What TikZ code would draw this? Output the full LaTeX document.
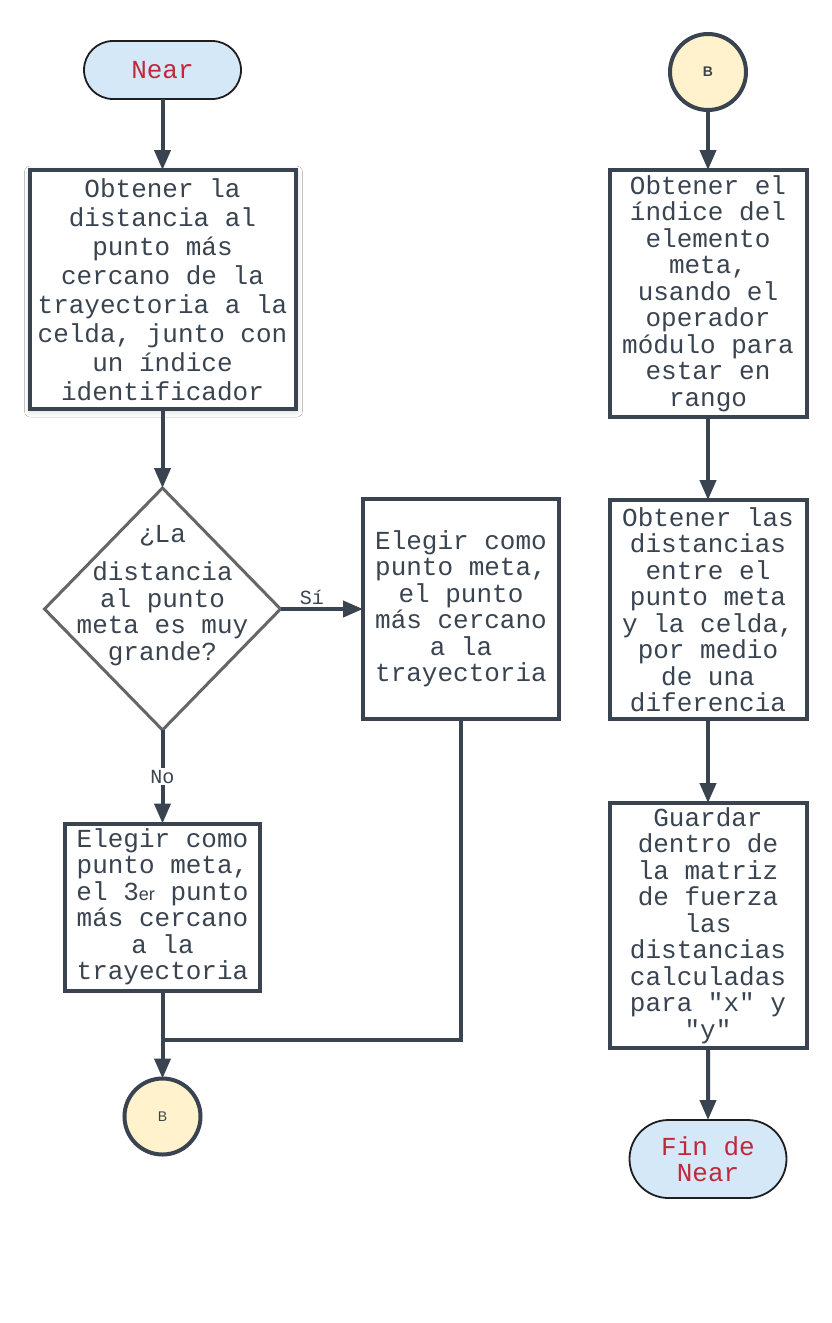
\documentclass[tikz,border=0pt]{standalone}
\usepackage{fontspec}
\setmainfont{Liberation Sans}
\setsansfont{Liberation Sans}
\setmonofont{Liberation Mono}
\usepackage{tikz}
\usetikzlibrary{arrows.meta,positioning,shapes.geometric,shapes.misc,shadows.blur}
\definecolor{cInk}{HTML}{3A4450}
\definecolor{cEdge}{HTML}{1E1E1E}
\definecolor{cGray}{HTML}{666666}
\definecolor{cTerm}{HTML}{D5E8F8}
\definecolor{cConn}{HTML}{FFF2CC}
\definecolor{cRed}{HTML}{C0283C}
\tikzset{
  >={Triangle[length=20pt,width=16pt]},
  txt/.style  ={font=\ttfamily\fontsize{26}{26.5}\selectfont,text=cInk},
  term/.style ={rounded rectangle,draw=cEdge,line width=1.8pt,fill=cTerm,
                txt,text=cRed,align=center,inner sep=0pt,outer sep=0pt},
  proc/.style ={rectangle,draw=cInk,line width=4pt,fill=white,
                txt,align=center,inner sep=0pt,outer sep=0pt},
  dec/.style  ={diamond,draw=cGray,line width=3pt,fill=white,
                inner sep=0pt,outer sep=0pt},
  conn/.style ={circle,draw=cInk,line width=4pt,fill=cConn,inner sep=0pt,
                outer sep=0pt,minimum size=76pt,text=cInk,
                font=\sffamily\fontsize{14}{14}\selectfont},
  ar/.style   ={->,line width=4pt,draw=cInk},
  ln/.style   ={line width=4pt,draw=cInk},
  lbl/.style  ={font=\ttfamily\fontsize{20}{20}\selectfont,text=cInk,inner sep=2pt},
}

\begin{document}
\begin{tikzpicture}[x=1pt,y=1pt]
\fill[white] (0,0) rectangle (832,-1323);

% left column
\node[term,minimum width=157pt,minimum height=58pt] (near) at (162.5,-70) {Near};
\node[proc,font=\ttfamily\fontsize{26}{29}\selectfont,minimum width=266pt,
      minimum height=239pt,below=71pt of near,
      blur shadow={shadow xshift=1pt,shadow yshift=-2pt,shadow blur radius=6pt,shadow opacity=18}]
      (dist) {Obtener la\\distancia al\\punto más\\cercano de la\\trayectoria a la\\celda, junto con\\un índice\\identificador};
\node[dec,minimum width=236pt,minimum height=242pt,below=79pt of dist,
      label={[txt,align=center,yshift=13.5pt]center:{¿La\\[12pt]distancia\\al punto\\meta es muy\\grande?}}] (big) {};
\node[proc,minimum width=196pt,minimum height=220pt,right=82.5pt of big]
      (far) {Elegir como\\punto meta,\\el punto\\más cercano\\a la\\trayectoria};
\node[proc,minimum width=195pt,minimum height=167pt,below=93.5pt of big]
      (third) {Elegir como\\punto meta,\\el 3{\sffamily\fontsize{18}{18}\selectfont er} punto\\más cercano\\a la\\trayectoria};
\node[conn,below=88pt of third] (bL) {B};
\coordinate[below=49pt of third.south] (join);

% right column
\node[conn,font=\sffamily\bfseries\fontsize{14}{14}\selectfont] (bR) at (708,-72) {B};
\node[proc,minimum width=197pt,minimum height=247pt,below=60pt of bR]
      (idx) {Obtener el\\índice del\\elemento\\meta,\\usando el\\operador\\módulo para\\estar en\\rango};
\node[proc,minimum width=197pt,minimum height=219pt,below=83pt of idx]
      (diff) {Obtener las\\distancias\\entre el\\punto meta\\y la celda,\\por medio\\de una\\diferencia};
\node[proc,minimum width=197pt,minimum height=245pt,below=84pt of diff]
      (save) {Guardar\\dentro de\\la matriz\\de fuerza\\las\\distancias\\calculadas\\para "x" y\\"y"};
\node[term,minimum width=157pt,minimum height=78pt,below=72pt of save] (fin) {Fin de\\Near};

\draw[ar] (near) -- (dist);
\draw[ar] (dist) -- (big);
\draw[ar] (big) -- node[lbl,above,pos=0.38]{Sí} (far);
\draw[ar] (big) -- node[lbl,fill=white]{No} (third);
\draw[ar] (third) -- (bL);
\draw[ln] (far) |- (join);

\draw[ar] (bR) -- (idx);
\draw[ar] (idx) -- (diff);
\draw[ar] (diff) -- (save);
\draw[ar] (save) -- (fin);
\end{tikzpicture}
\end{document}
